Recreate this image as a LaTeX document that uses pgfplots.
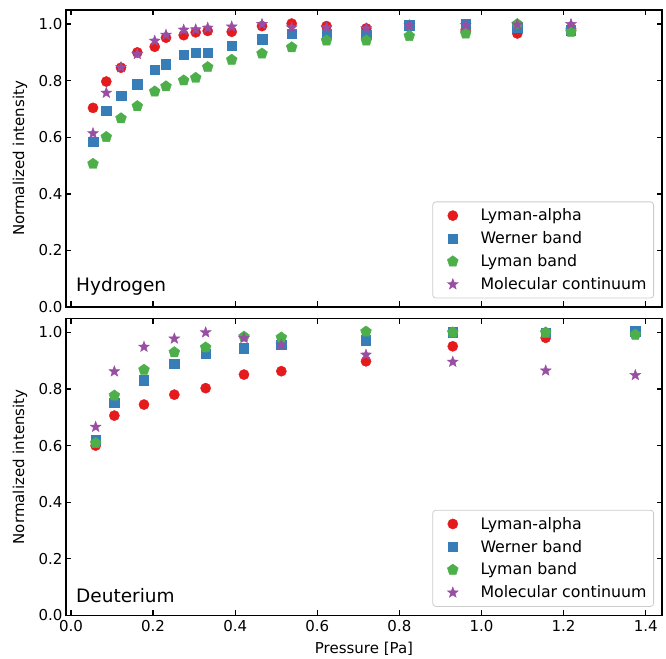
\documentclass[border=0pt]{standalone}
\usepackage{fontspec}
\setmainfont{DejaVu Sans}
\usepackage{pgfplots}
\pgfplotsset{compat=1.18}
\usetikzlibrary{plotmarks,calc}

\definecolor{cR}{HTML}{E41A1C}
\definecolor{cB}{HTML}{377EB8}
\definecolor{cG}{HTML}{4DAF4A}
\definecolor{cP}{HTML}{984EA3}

\pgfdeclareplotmark{fstar}{%
  \pgfpathmoveto{\pgfpointpolar{90}{\pgfplotmarksize}}%
  \pgfpathlineto{\pgfpointpolar{126}{0.42\pgfplotmarksize}}%
  \pgfpathlineto{\pgfpointpolar{162}{\pgfplotmarksize}}%
  \pgfpathlineto{\pgfpointpolar{198}{0.42\pgfplotmarksize}}%
  \pgfpathlineto{\pgfpointpolar{234}{\pgfplotmarksize}}%
  \pgfpathlineto{\pgfpointpolar{270}{0.42\pgfplotmarksize}}%
  \pgfpathlineto{\pgfpointpolar{306}{\pgfplotmarksize}}%
  \pgfpathlineto{\pgfpointpolar{342}{0.42\pgfplotmarksize}}%
  \pgfpathlineto{\pgfpointpolar{18}{\pgfplotmarksize}}%
  \pgfpathlineto{\pgfpointpolar{54}{0.42\pgfplotmarksize}}%
  \pgfpathclose
  \pgfusepathqfillstroke}

\pgfplotsset{
  myax/.style={
    scale only axis, width=596pt, height=297pt,
    xmin=-0.0122, xmax=1.4397, ymin=0, ymax=1.05,
    xtick={0,0.2,0.4,0.6,0.8,1.0,1.2,1.4},
    ytick={0,0.2,0.4,0.6,0.8,1.0},
    minor tick num=0,
    tick align=inside, major tick length=5.5pt,
    axis line style={line width=1.5pt},
    every tick/.style={black, line width=1.3pt},
    xtick pos=both, ytick pos=both,
    xticklabel pos=left, yticklabel pos=left,
    /pgf/number format/.cd, fixed, fixed zerofill, precision=1, assume math mode=true, /pgfplots/.cd,
    tick label style={font=\fontsize{15}{18}\selectfont},
    xticklabel style={yshift=-1.5pt},
    ylabel={Normalized intensity},
    every axis y label/.style={at={([xshift=-46pt]axis description cs:0,0.5)}, rotate=90, anchor=center, font=\fontsize{15}{18}\selectfont},
    every axis x label/.style={at={([yshift=-33pt]axis description cs:0.5,0)}, anchor=center, font=\fontsize{15}{18}\selectfont},
    legend cell align=left,
    legend image code/.code={\path[draw=none,fill=none] (0pt,-5pt) rectangle (30pt,5pt); \draw[##1, fill opacity=1] plot coordinates {(15pt,0pt)};},
    legend style={at={([xshift=-8pt,yshift=8.5pt]axis description cs:1,0)}, anchor=south east,
      draw=black!20, line width=0.8pt, rounded corners=3pt, fill=white, fill opacity=0.8, text opacity=1,
      inner xsep=5pt, inner ysep=5pt, row sep=5.4pt, column sep=10.7pt,
      font=\fontsize{15.8}{18}\selectfont, nodes={inner sep=2pt}},
  },
  sR/.style={only marks, mark=*, mark size=5.1pt, color=cR, mark options={line width=0.4pt}},
  sB/.style={only marks, mark=square*, mark size=4.7pt, color=cB, mark options={line width=0.4pt}},
  sG/.style={only marks, mark=pentagon*, mark size=5.7pt, color=cG, mark options={line width=0.4pt}},
  sP/.style={only marks, mark=fstar, mark size=5.7pt, color=cP, mark options={line width=0.4pt}},
}

\begin{document}
\begin{tikzpicture}
\begin{axis}[myax, name=ax1, xticklabels={}]
\addplot[sR] coordinates {(0.0536,0.704)(0.086,0.797)(0.1218,0.846)(0.1615,0.900)(0.2039,0.920)(0.2314,0.952)(0.2745,0.961)(0.3038,0.971)(0.333,0.976)(0.3915,0.973)(0.4653,0.993)(0.5376,1.002)(0.6224,0.993)(0.7194,0.985)(0.8241,0.990)(0.9615,0.980)(1.0872,0.967)(1.218,0.985)};
\addlegendentry{Lyman-alpha}
\addplot[sB] coordinates {(0.0536,0.584)(0.086,0.694)(0.1218,0.746)(0.1615,0.788)(0.2039,0.839)(0.2314,0.858)(0.2745,0.893)(0.3038,0.898)(0.333,0.900)(0.3915,0.923)(0.4653,0.947)(0.5376,0.967)(0.6224,0.967)(0.7194,0.962)(0.8241,0.996)(0.9615,1.000)(1.0872,0.988)(1.218,0.979)};
\addlegendentry{Werner band}
\addplot[sG] coordinates {(0.0536,0.506)(0.086,0.601)(0.1218,0.667)(0.1615,0.710)(0.2039,0.762)(0.2314,0.780)(0.2745,0.801)(0.3038,0.810)(0.333,0.848)(0.3915,0.874)(0.4653,0.896)(0.5376,0.918)(0.6224,0.942)(0.7194,0.942)(0.8241,0.958)(0.9615,0.967)(1.0872,1.000)(1.218,0.973)};
\addlegendentry{Lyman band}
\addplot[sP] coordinates {(0.0536,0.614)(0.086,0.757)(0.1218,0.847)(0.1615,0.894)(0.2039,0.941)(0.2314,0.962)(0.2745,0.980)(0.3038,0.981)(0.333,0.987)(0.3915,0.991)(0.4653,1.000)(0.5376,0.988)(0.6224,0.988)(0.7194,0.985)(0.8241,0.996)(0.9615,0.996)(1.0872,0.998)(1.218,1.000)};
\addlegendentry{Molecular continuum}
\end{axis}
\begin{axis}[myax, name=ax2, at={($(ax1.south west)+(0pt,-11.3pt)$)}, anchor=north west, xlabel={Pressure [Pa]}]
\addplot[sR] coordinates {(0.060,0.600)(0.1056,0.706)(0.1778,0.745)(0.2517,0.780)(0.328,0.803)(0.4214,0.851)(0.5124,0.863)(0.7186,0.898)(0.930,0.951)(1.1564,0.981)(1.3747,1.000)};
\addlegendentry{Lyman-alpha}
\addplot[sB] coordinates {(0.060,0.621)(0.1056,0.751)(0.1778,0.831)(0.2517,0.890)(0.328,0.924)(0.4214,0.944)(0.5124,0.957)(0.7186,0.973)(0.930,1.001)(1.1564,1.000)(1.3747,1.005)};
\addlegendentry{Werner band}
\addplot[sG] coordinates {(0.060,0.609)(0.1056,0.777)(0.1778,0.868)(0.2517,0.930)(0.328,0.947)(0.4214,0.985)(0.5124,0.982)(0.7186,1.003)(0.930,1.000)(1.1564,1.000)(1.3747,0.992)};
\addlegendentry{Lyman band}
\addplot[sP] coordinates {(0.060,0.666)(0.1056,0.862)(0.1778,0.949)(0.2517,0.978)(0.328,1.000)(0.4214,0.980)(0.5124,0.956)(0.7186,0.921)(0.930,0.896)(1.1564,0.865)(1.3747,0.849)};
\addlegendentry{Molecular continuum}
\end{axis}
\node[anchor=base west, font=\fontsize{18.5}{22}\selectfont, inner sep=0pt] at ([shift={(10pt,15.3pt)}]ax1.south west) {Hydrogen};
\node[anchor=base west, font=\fontsize{18.5}{22}\selectfont, inner sep=0pt] at ([shift={(10pt,13.3pt)}]ax2.south west) {Deuterium};
\pgfresetboundingbox
\path ([shift={(-66pt,10pt)}]ax1.north west) rectangle ([shift={(600pt,-648pt)}]ax1.north west);
\end{tikzpicture}
\end{document}
